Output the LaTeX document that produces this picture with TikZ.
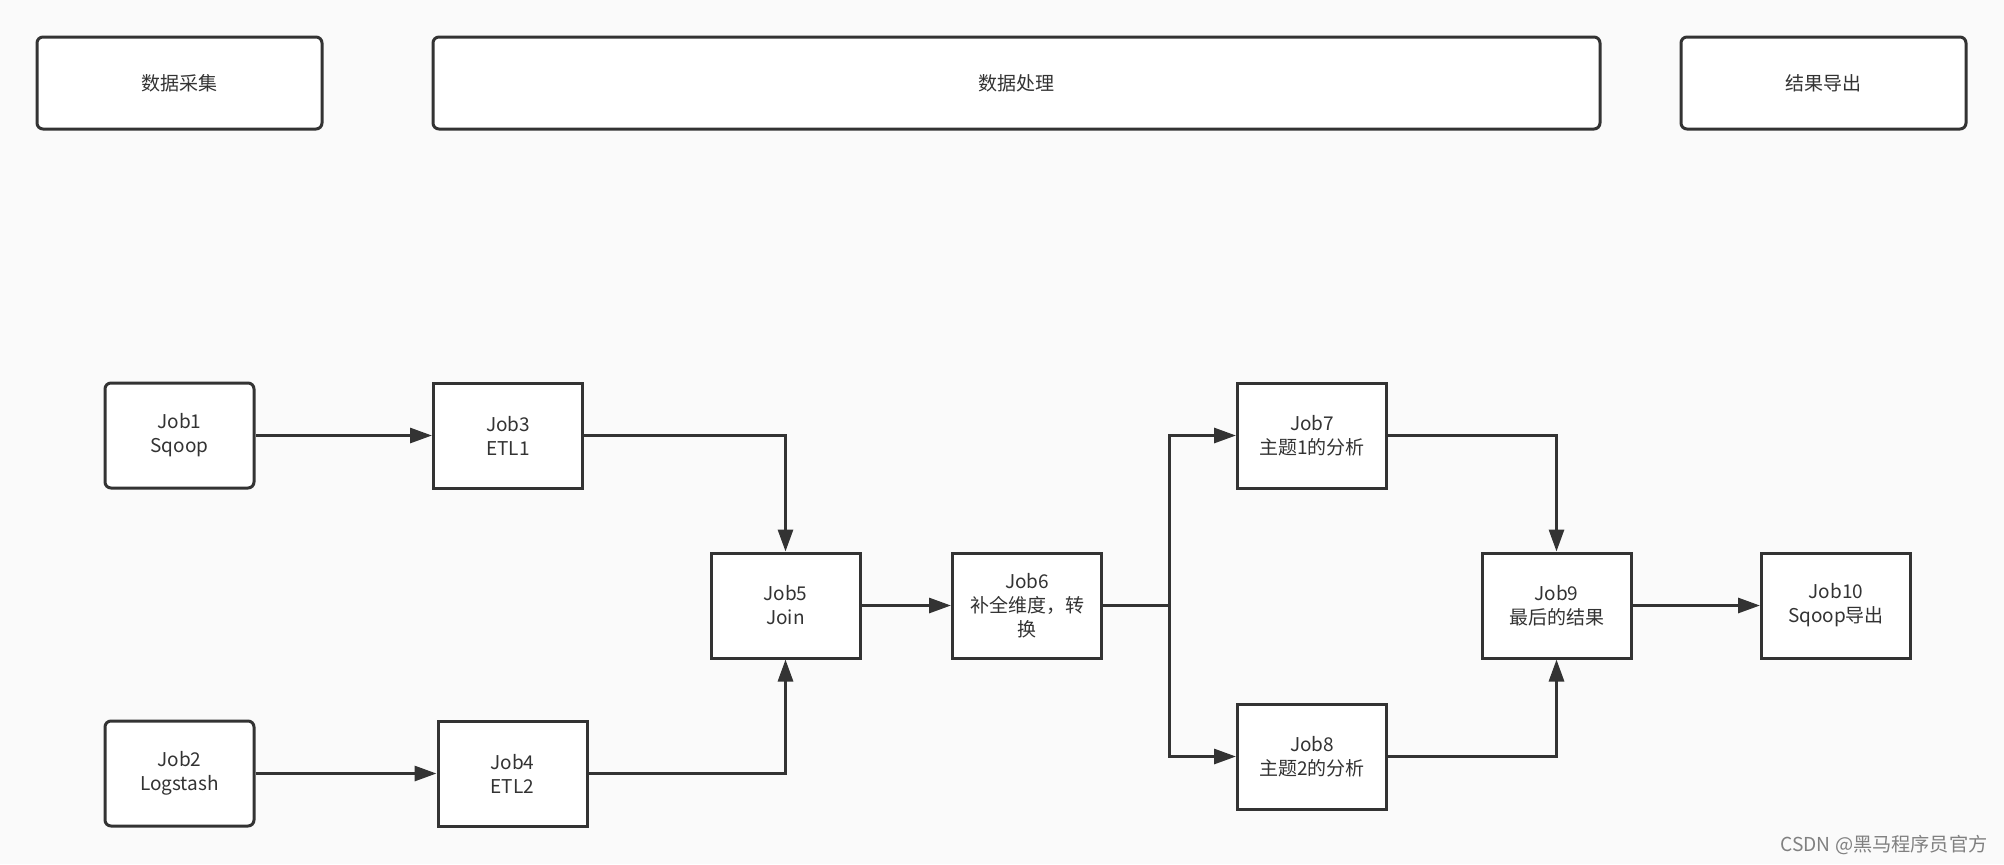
\documentclass[tikz,border=0pt]{standalone}
\usepackage{fontspec}
\setmainfont{Noto Sans CJK SC}
\usetikzlibrary{arrows.meta}
\definecolor{ink}{HTML}{333333}
\definecolor{paper}{HTML}{FAFAFA}
\begin{document}
\begin{tikzpicture}[x=0.5pt,y=-0.5pt,
    phase/.style={draw=ink, fill=white, line width=1.5pt, rounded corners=3pt,
      minimum height=46pt, inner sep=0pt, font=\fontsize{9.5}{12}\selectfont, text=ink},
    job/.style={draw=ink, fill=white, line width=1.5pt, minimum width=74.5pt,
      minimum height=52.5pt, inner sep=0pt, align=center,
      font=\fontsize{9.5}{12}\selectfont, text=ink,
      execute at begin node={\vspace*{4pt}}},
    source/.style={job, rounded corners=3pt},
    flow/.style={draw=ink, line width=1.5pt, -{Triangle[length=11pt,width=7.5pt]}}]
    \fill[paper] (0,0) rectangle (2004,864);
    \useasboundingbox (0,0) rectangle (2004,864);
    % phases
    \node [phase, minimum width=142.5pt] (collect) at (179.5,83) {数据采集};
    \node [phase, minimum width=583.5pt] (process) at (1016.5,83) {数据处理};
    \node [phase, minimum width=142.5pt] (export) at (1823.5,83) {结果导出};
    % jobs
    \node [source] (job1) at (179.5,435.5) {Job1\\Sqoop};
    \node [source] (job2) at (179.5,773.5) {Job2\\Logstash};
    \node [job] (job3) at (508,435.5) {Job3\\ETL1};
    \node [job] (job4) at (512.5,773.5) {Job4\\ETL2};
    \node [job] (job5) at (785.5,605.5) {Job5\\Join};
    \node [job] (job6) at (1027,605.5) {Job6\\补全维度，转\\换};
    \node [job] (job7) at (1312,435.5) {Job7\\主题1的分析};
    \node [job] (job8) at (1312,756.5) {Job8\\主题2的分析};
    \node [job] (job9) at (1556.5,605.5) {Job9\\最后的结果};
    \node [job] (job10) at (1836,605.5) {Job10\\Sqoop导出};
    \coordinate (fork) at (1169,605.5);
    % connectors
    \draw [flow] (job1) -- (job3);
    \draw [flow] (job2) -- (job4);
    \draw [flow] (job3.east) -| (job5.north);
    \draw [flow] (job4.east) -| (job5.south);
    \draw [flow] (job5) -- (job6);
    \draw [draw=ink, line width=1.5pt] (job6.east) -- (fork);
    \draw [flow] (fork) |- (job7.west);
    \draw [flow] (fork) |- (job8.west);
    \draw [flow] (job7.east) -| (job9.north);
    \draw [flow] (job8.east) -| (job9.south);
    \draw [flow] (job9) -- (job10);
    \node [text=gray, font=\fontsize{9.6}{11}\selectfont] (mark) at (1884,845) {CSDN @黑马程序员官方};
\end{tikzpicture}
\end{document}
